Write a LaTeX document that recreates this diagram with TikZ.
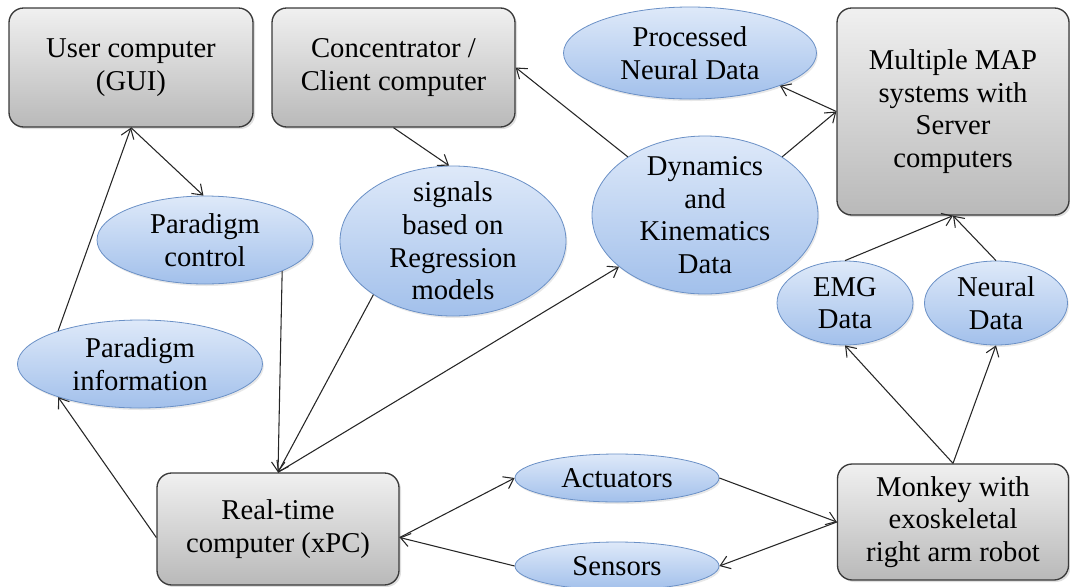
\documentclass[tikz,border=0pt]{standalone}
\usepackage{fontspec}
\setmainfont{Liberation Serif}
\newfontfamily\tnr{Liberation Serif}
\usetikzlibrary{shapes.geometric,arrows.meta,shadows}
\definecolor{boxtop}{HTML}{F0F0F0}
\definecolor{boxbot}{HTML}{B9B9B9}
\definecolor{boxline}{HTML}{3A3A3A}
\definecolor{elltop}{HTML}{DEE9F9}
\definecolor{ellbot}{HTML}{A2C0EB}
\definecolor{ellline}{HTML}{6A90C6}
\begin{document}
\begin{tikzpicture}[x=0.75pt,y=-0.75pt,
  sz/.style 2 args={minimum width=#1*0.75pt, minimum height=#2*0.75pt},
  txt/.style={font=\tnr\fontsize{21.5}{24.5}\selectfont, align=center, text=black},
  boxnode/.style={txt, rectangle, rounded corners=11pt, draw=boxline, line width=1pt,
    top color=boxtop, bottom color=boxbot, inner sep=0pt,
    drop shadow={opacity=0.25, shadow xshift=1.5pt, shadow yshift=-1.5pt}},
  ellnode/.style={txt, ellipse, draw=ellline, line width=0.6pt,
    top color=elltop, bottom color=ellbot, inner sep=-30pt,
    drop shadow={opacity=0.18, shadow xshift=1pt, shadow yshift=-1.5pt}},
  arr/.style={-{Straight Barb[length=7pt,width=10pt]}, line width=0.8pt, draw=black!85}
]
\useasboundingbox (0,0) rectangle (1070,586);

% boxes
\node[boxnode, sz={244}{119}] (user) at (131,67.5) {User computer\\(GUI)};
\node[boxnode, sz={243}{119}] (conc) at (393.5,67.5) {Concentrator /\\Client computer};
\node[boxnode, sz={232}{207}] (map) at (953,111.5) {Multiple MAP\\systems with\\Server\\computers};
\node[boxnode, sz={242}{112}] (rt) at (278,529) {Real-time\\computer (xPC)};
\node[boxnode, sz={231}{116}] (monkey) at (953,522) {Monkey with\\exoskeletal\\right arm robot};

% ellipses
\node[ellnode, sz={253}{92}] (proc) at (690,53) {Processed\\Neural Data};
\node[ellnode, sz={216}{88}] (pc) at (205,240) {Paradigm\\control};
\node[ellnode, sz={226}{150}] (sig) at (453,241) {signals\\based on\\Regression\\models};
\node[ellnode, sz={226}{158}] (dyn) at (705,215) {Dynamics\\and\\Kinematics\\Data};
\node[ellnode, sz={245}{88}] (pi) at (140,364) {Paradigm\\information};
\node[ellnode, sz={136}{84}] (emg) at (845,303) {EMG\\Data};
\node[ellnode, sz={143}{84}] (neu) at (996,303) {Neural\\Data};
\node[ellnode, sz={204}{48}] (act) at (617,478) {Actuators};
\node[ellnode, sz={204}{48}] (sen) at (617,566) {Sensors};

% connectors
\draw[arr] (pi.158) -- (user.south);
\draw[arr] (user.south) -- (pc.92);
\draw[arr] (pc.-22) -- (rt.north);
\draw[arr] (conc.south) -- (sig.93);
\draw[arr] (sig.214) -- (rt.north);
\draw[arr] (rt.north) -- (dyn.211);
\draw[arr] (dyn.143) -- (conc.east);
\draw[arr] (dyn.37) -- (map.west);
\draw[arr] (map.west) -- (proc.-20);
\draw[arr] (emg.north) -- (map.south);
\draw[arr] (neu.north) -- (map.south);
\draw[arr] (monkey.north) -- (emg.south);
\draw[arr] (monkey.north) -- (neu.south);
\draw[arr] (rt.184) -- (pi.202);
\draw[arr] (rt.-4) -- (act.west);
\draw[arr] (act.east) -- (monkey.west);
\draw[arr] (monkey.west) -- (sen.east);
\draw[arr] (sen.west) -- (rt.-4);
\end{tikzpicture}
\end{document}
